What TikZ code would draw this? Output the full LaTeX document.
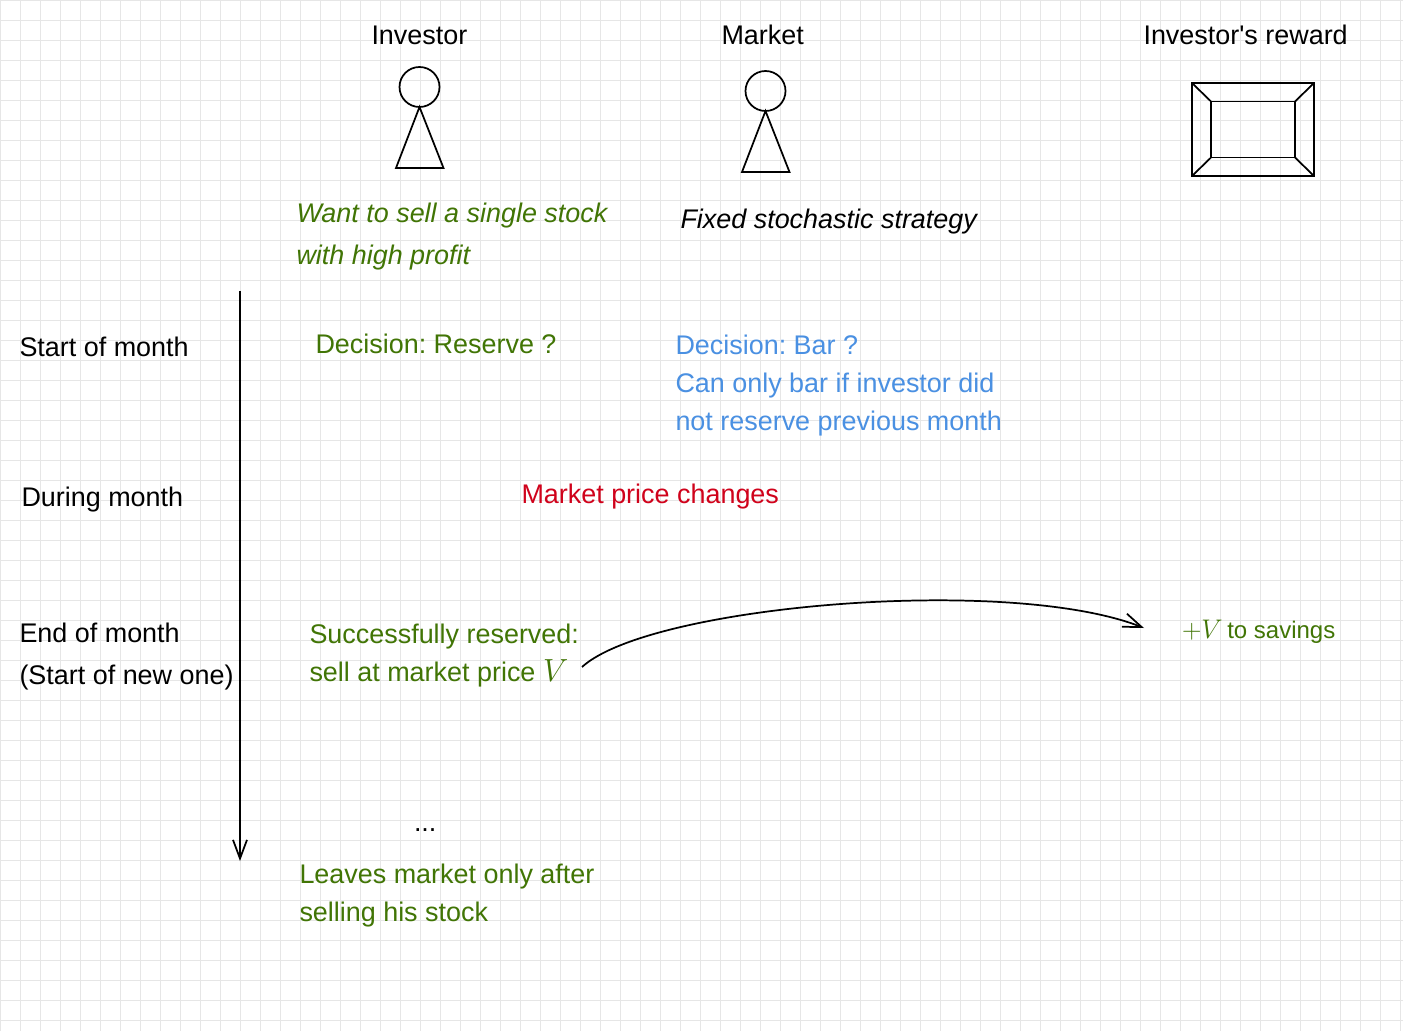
\documentclass[tikz,border=0pt]{standalone}
\usepackage{fontspec}
\usepackage{fix-cm}
\setmainfont{Liberation Sans}
\usetikzlibrary{arrows.meta}
\definecolor{gridgray}{HTML}{E6E6E6}
\definecolor{investorgreen}{HTML}{417505}
\definecolor{marketblue}{HTML}{4A90E2}
\definecolor{pricered}{HTML}{D0021B}
\newcommand{\bigvar}{{\fontsize{24}{24}\selectfont$V$}}
\tikzset{
  gridline/.style={gridgray,line width=0.75pt},
  figure/.style={draw=black,line width=1.3pt,line join=miter},
  label/.style={inner sep=0pt,outer sep=0pt,anchor=base west,align=left,font=\fontsize{20.2}{20}\selectfont},
  wide/.style={label,font=\fontsize{20.2}{31.5}\selectfont},
  tight/.style={label,font=\fontsize{20.2}{28.2}\selectfont},
  flow/.style={black,line width=1.3pt,-{Straight Barb[length=14pt,width=10.5pt,line width=1.3pt]}},
}
\begin{document}
\frenchspacing
\begin{tikzpicture}[x=0.75pt,y=-0.75pt]
  \useasboundingbox (0,0) rectangle (1403,1031);
  \fill[white] (0,0) rectangle (1403,1031);
  \foreach \xpos in {0,20,...,1400} \draw[gridline] (\xpos+0.5,0)--(\xpos+0.5,1031);
  \foreach \ypos in {0,20,...,1020} \draw[gridline] (0,\ypos+0.5)--(1403,\ypos+0.5);
  \draw[figure] (419.5,87) circle(20);
  \draw[figure] (419.5,107)--(443.5,168)--(396,168)--cycle;
  \draw[figure] (765.5,91) circle(20);
  \draw[figure] (765.5,111)--(789.5,172)--(742,172)--cycle;
  \draw[figure] (1192,83) rectangle (1314,176);
  \draw[figure] (1211,101.5) rectangle (1295,157.5);
  \draw[figure] (1192,83)--(1211,101.5) (1314,83)--(1295,101.5) (1192,176)--(1211,157.5) (1314,176)--(1295,157.5);
  \node[label] (investor) at (371.5,45) {Investor};
  \node[label] (market) at (721.5,45) {Market};
  \node[label] (reward) at (1143.5,45) {Investor\textquotesingle s reward};
  \node[wide,text=investorgreen,font=\fontsize{20.2}{31.5}\selectfont\itshape] (goal) at (296.5,264) {Want to sell a single stock\\with high profit};
  \node[label,font=\fontsize{20.2}{20}\selectfont\itshape] (strategy) at (680.5,228) {Fixed stochastic strategy};
  \node[label] (start) at (19.5,356) {Start of month};
  \node[label] (during) at (21.5,506) {During month};
  \node[wide] (end) at (19.5,684) {End of month\\(Start of new one)};
  \node[label,text=investorgreen] (reserve) at (315.5,353) {Decision: Reserve ?};
  \node[tight,text=marketblue] (bar) at (675.5,430) {Decision: Bar ?\\Can only bar if investor did\\not reserve previous month};
  \node[label,text=pricered] (price) at (521.5,503) {Market price changes};
  \node[tight,text=investorgreen] (sell) at (309.5,681) {Successfully reserved:\\sell at market price \bigvar};
  \node[label,text=investorgreen,font=\fontsize{18}{18}\selectfont] (savings) at (1182,638) {{\fontsize{20.2}{20}\selectfont$+V$}\hspace{-1.5pt} to savings};
  \node[label] (dots) at (414,831) {...};
  \node[tight,text=investorgreen] (leaves) at (299.5,921) {Leaves market only after\\selling his stock};
  \coordinate (timetop) at (240,291);
  \coordinate (timeend) at (240,861);
  \coordinate (sellout) at (582,667);
  \coordinate (savingsin) at (1144,628);
  \draw[flow] (timetop)--(timeend);
  \draw[flow] (sellout) .. controls (650,605) and (1010,575) .. (savingsin);
\end{tikzpicture}
\end{document}
